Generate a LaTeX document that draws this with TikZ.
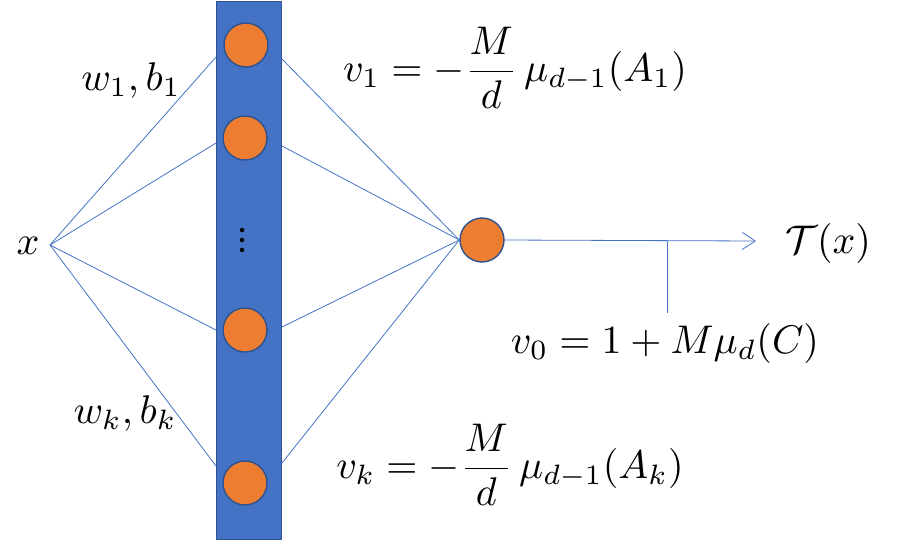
\documentclass[tikz,border=0pt]{standalone}
\usepackage{amsmath}
\usepackage{graphicx}
\usetikzlibrary{arrows.meta}
\definecolor{lineblue}{HTML}{4472C4}
\definecolor{darkblue}{HTML}{2F528F}
\definecolor{neuron}{HTML}{ED7D31}
\newcommand{\lbltext}[1]{\scalebox{4.0}{$#1$}}
\begin{document}
\begin{tikzpicture}[x=1pt,y=-1pt,
  conn/.style={draw=lineblue,line width=0.8pt},
  neuronnode/.style={circle,fill=neuron,draw=darkblue,line width=1.4pt,minimum size=44pt,inner sep=0pt},
  lbl/.style={inner sep=0pt}]
\useasboundingbox (0,0) rectangle (904,541);
% hidden layer bar
\node[draw=darkblue,fill=lineblue,line width=1.6pt,minimum width=65pt,minimum height=538pt,inner sep=0pt] (bar) at (249,270.5) {};
\node[neuronnode] (h1) at (246,45) {};
\node[neuronnode] (h2) at (245,138) {};
\node[neuronnode] (h3) at (245,330) {};
\node[neuronnode] (h4) at (245,483) {};
\node[circle,fill=black,inner sep=1.6pt] (d1) at (242,230) {};
\node[circle,fill=black,inner sep=1.6pt] (d2) at (242,240) {};
\node[circle,fill=black,inner sep=1.6pt] (d3) at (242,250) {};
% output neuron
\node[neuronnode] (out) at (482,240) {};
% input
\node[lbl] (x) at (28,246) {\lbltext{x}};
\coordinate (xin) at (50,245);
\coordinate (l1) at (216,57);
\coordinate (l2) at (216,143);
\coordinate (l3) at (216,330);
\coordinate (l4) at (216,466);
\coordinate (r1) at (282,59);
\coordinate (r2) at (282,146);
\coordinate (r3) at (282,327);
\coordinate (r4) at (282,463);
\coordinate (conv) at (out.west);
\foreach \c in {l1,l2,l3,l4} \draw[conn] (xin) -- (\c);
\foreach \c in {r1,r2,r3,r4} \draw[conn] (\c) -- (conv);
% output arrow
\coordinate (arrend) at (756,241);
\coordinate (tjoin) at (667,241);
\coordinate (tbot) at (667,313);
\draw[conn,-{Straight Barb[length=13pt,width=17pt,line width=0.8pt]}] (out.east) -- (arrend);
\draw[conn] (tjoin) -- (tbot);
% labels
\node[lbl] (T) at (828,243) {\lbltext{\mathcal{T}(x)}};
\node[lbl] (v0) at (665,343) {\lbltext{v_0=1+M\mu_d(C)}};
\node[lbl] (wb1) at (131,80) {\lbltext{w_1,b_1}};
\node[lbl] (wbk) at (125,413) {\lbltext{w_k,b_k}};
\node[lbl] (v1) at (515,68) {\lbltext{v_1=-\dfrac{M}{d}\,\mu_{d-1}(A_1)}};
\node[lbl] (vk) at (510,465) {\lbltext{v_k=-\dfrac{M}{d}\,\mu_{d-1}(A_k)}};
\end{tikzpicture}
\end{document}
